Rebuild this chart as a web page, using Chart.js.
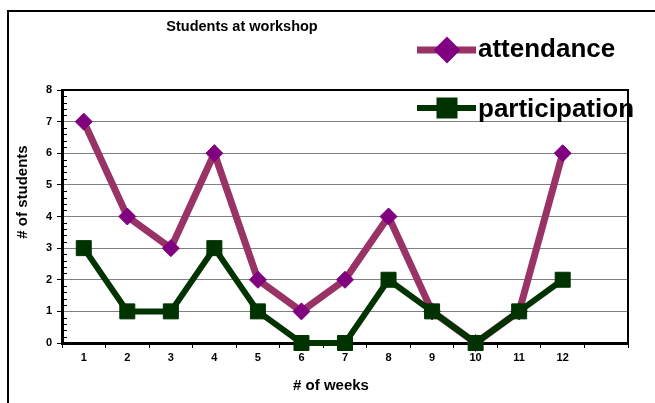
<!DOCTYPE html>
<html>
<head>
<meta charset="utf-8">
<script src="https://cdn.jsdelivr.net/npm/chart.js@4.4.1/dist/chart.umd.min.js"></script>
<style>
  html, body { margin: 0; padding: 0; background: #fff; }
  #wrap { width: 655px; height: 403px; position: relative; }
</style>
</head>
<body>
<div id="wrap"><canvas id="c" width="655" height="403"></canvas></div>
<script>
// Weekly workshop counts
const weeks = ['1', '2', '3', '4', '5', '6', '7', '8', '9', '10', '11', '12', ''];
const attendance = [7, 4, 3, 6, 2, 1, 2, 4, 1, 0, 1, 6];
const participation = [3, 1, 1, 3, 1, 0, 0, 2, 1, 0, 1, 2];
const seriesNames = ['attendance', 'participation'];
const chartTitle = 'Students at workshop';
const xTitle = '# of weeks';
const yTitle = '# of students';

const FONT = '"Liberation Sans", Arial, Helvetica, sans-serif';

// Frame, minor ticks, titles and legend drawn on the canvas
const decorations = {
  id: 'decorations',
  beforeDraw(chart) {
    const ctx = chart.ctx;
    ctx.save();
    ctx.fillStyle = '#fff';
    ctx.fillRect(0, 0, chart.width, chart.height);
    // outer chart frame
    ctx.strokeStyle = '#000';
    ctx.lineWidth = 2;
    ctx.beginPath();
    ctx.moveTo(8, chart.height + 2);
    ctx.lineTo(8, 11);
    ctx.lineTo(chart.width + 2, 11);
    ctx.stroke();
    ctx.restore();
  },
  beforeDatasetsDraw(chart) {
    const ctx = chart.ctx;
    const area = chart.chartArea;
    const y = chart.scales.y;
    ctx.save();
    // minor ticks on the value axis
    ctx.strokeStyle = '#000';
    ctx.lineWidth = 1;
    ctx.beginPath();
    for (let i = 1; i < 40; i++) {
      if (i % 5 === 0) continue;
      const py = Math.round(y.getPixelForValue(i / 5)) + 0.5;
      ctx.moveTo(area.left, py);
      ctx.lineTo(area.left + 5, py);
    }
    ctx.stroke();
    // top and right edges of the plot area
    ctx.lineWidth = 2;
    ctx.beginPath();
    ctx.moveTo(area.left, area.top);
    ctx.lineTo(area.right, area.top);
    ctx.lineTo(area.right, area.bottom);
    ctx.stroke();
    ctx.restore();
  },
  afterDraw(chart) {
    const ctx = chart.ctx;
    ctx.save();
    // chart title
    ctx.fillStyle = '#000';
    ctx.textAlign = 'center';
    ctx.textBaseline = 'alphabetic';
    ctx.font = 'bold 14.5px ' + FONT;
    ctx.fillText(chartTitle, 242, 31);

    // axis titles
    ctx.font = 'bold 15px ' + FONT;
    ctx.fillText(xTitle, 331, 390);
    ctx.save();
    ctx.translate(27, 192);
    ctx.rotate(-Math.PI / 2);
    ctx.fillText(yTitle, 0, 0);
    ctx.restore();

    // legend
    const rows = [56.5, 117];
    const mids = [50, 108];
    chart.data.datasets.forEach((ds, i) => {
      const cy = mids[i];
      ctx.strokeStyle = ds.borderColor;
      ctx.lineWidth = ds.borderWidth;
      ctx.lineCap = 'butt';
      ctx.beginPath();
      ctx.moveTo(417, cy);
      ctx.lineTo(476, cy);
      ctx.stroke();
      ctx.fillStyle = ds.pointBackgroundColor;
      ctx.strokeStyle = ds.pointBorderColor;
      Chart.helpers.drawPoint(ctx, {
        pointStyle: ds.pointStyle,
        radius: ds.pointRadius,
        rotation: 0,
        borderWidth: ds.pointBorderWidth
      }, 447, cy);
      ctx.fillStyle = '#000';
      ctx.textAlign = 'left';
      ctx.font = 'bold 26px ' + FONT;
      ctx.fillText(ds.label, 478, rows[i]);
    });
    ctx.restore();
  }
};

new Chart(document.getElementById('c'), {
  type: 'line',
  data: {
    labels: weeks,
    datasets: [
      {
        label: seriesNames[0],
        data: attendance,
        borderColor: '#993366',
        borderWidth: 7,
        pointStyle: 'rectRot',
        pointRadius: 8.5,
        pointBackgroundColor: '#800080',
        pointBorderColor: '#800080',
        pointBorderWidth: 1,
        tension: 0,
        clip: false,
        order: 1
      },
      {
        label: seriesNames[1],
        data: participation,
        borderColor: '#003300',
        borderWidth: 6,
        pointStyle: 'rect',
        pointRadius: 10.6,
        pointBackgroundColor: '#003300',
        pointBorderColor: '#003300',
        pointBorderWidth: 1,
        tension: 0,
        clip: false,
        order: 0
      }
    ]
  },
  options: {
    responsive: false,
    devicePixelRatio: 1,
    animation: false,
    events: [],
    layout: { padding: { left: 0, top: 90, right: 27, bottom: 0 } },
    plugins: {
      legend: { display: false },
      title: { display: false },
      tooltip: { enabled: false }
    },
    scales: {
      x: {
        offset: true,
        afterFit(s) { s.height = 60; },
        grid: {
          offset: true,
          drawOnChartArea: false,
          drawTicks: true,
          tickLength: 5,
          tickColor: '#000',
          tickWidth: 1
        },
        border: { display: true, color: '#000', width: 3 },
        ticks: {
          color: '#000',
          font: { family: FONT, size: 11, weight: 'bold' },
          padding: 3,
          maxRotation: 0,
          autoSkip: false
        }
      },
      y: {
        min: 0,
        max: 8,
        afterFit(s) { s.width = 62; },
        grid: {
          color: '#808080',
          lineWidth: 1,
          drawTicks: true,
          tickLength: 5,
          tickColor: '#000'
        },
        border: { display: true, color: '#000', width: 3 },
        ticks: {
          stepSize: 1,
          color: '#000',
          font: { family: FONT, size: 11, weight: 'bold' },
          padding: 5
        }
      }
    }
  },
  plugins: [decorations]
});
</script>
</body>
</html>
